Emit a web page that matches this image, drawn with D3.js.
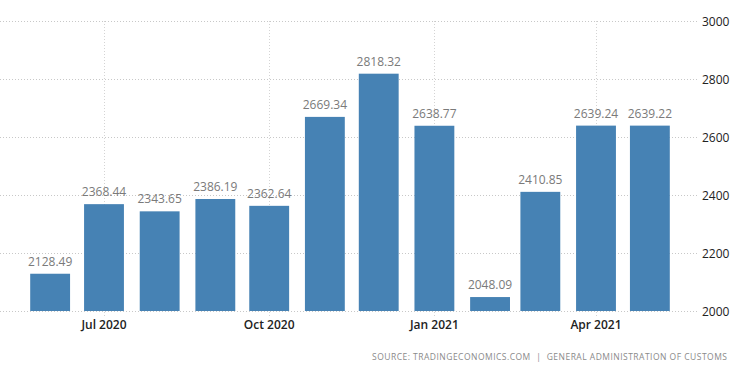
<!DOCTYPE html>
<html>
<head>
<meta charset="utf-8">
<script src="https://cdn.jsdelivr.net/npm/d3@7"></script>
<style>
  body { margin: 0; background: #fff; }
  svg { display: block; font-family: "Open Sans", sans-serif; }
</style>
</head>
<body>
<svg width="750" height="373"></svg>
<script>
// monthly values, Jun 2020 .. May 2021
var months = ["2020-06", "2020-07", "2020-08", "2020-09", "2020-10", "2020-11",
              "2020-12", "2021-01", "2021-02", "2021-03", "2021-04", "2021-05"];
var values = [2128.49, 2368.44, 2343.65, 2386.19, 2362.64, 2669.34,
              2818.32, 2638.77, 2048.09, 2410.85, 2639.24, 2639.22];
var yTicks = [2000, 2200, 2400, 2600, 2800, 3000];
var xTicks = ["2020-07", "2020-10", "2021-01", "2021-04"];
var source = "SOURCE: TRADINGECONOMICS.COM  |  GENERAL ADMINISTRATION OF CUSTOMS";

var parse = d3.timeParse("%Y-%m");
var data = months.map((m, i) => ({date: parse(m), value: values[i]}));

var svg = d3.select("svg");

var x = d3.scaleTime()
    .domain([parse("2020-07"), parse("2021-04")])
    .range([104, 596]);

var y = d3.scaleLinear()
    .domain([2000, 3000])
    .range([311, 21]);

var barW = (x(parse("2020-07")) - x(parse("2020-06"))) * 0.74;

// grid
var grid = svg.append("g");
grid.selectAll(".hgrid")
  .data(yTicks)
  .enter().append("line")
  .attr("x1", 0).attr("x2", 697)
  .attr("y1", d => y(d) + 0.5).attr("y2", d => y(d) + 0.5)
  .style("stroke", "#c8c8c8")
  .style("stroke-dasharray", "1,2");

grid.selectAll(".vgrid")
  .data(xTicks)
  .enter().append("line")
  .attr("x1", d => Math.round(x(parse(d))) + 0.5)
  .attr("x2", d => Math.round(x(parse(d))) + 0.5)
  .attr("y1", y(3000)).attr("y2", y(2000) + 5)
  .style("stroke", "#d4d4d4")
  .style("stroke-dasharray", "1,2");

// bars
svg.append("g").selectAll("rect")
  .data(data)
  .enter().append("rect")
  .attr("x", d => x(d.date) - barW / 2)
  .attr("width", barW)
  .attr("y", d => y(d.value))
  .attr("height", d => y(2000) - y(d.value))
  .attr("fill", "#4682b4");

// value labels
svg.append("g").selectAll("text")
  .data(data)
  .enter().append("text")
  .attr("x", d => x(d.date))
  .attr("y", d => y(d.value) - 8)
  .attr("text-anchor", "middle")
  .style("font-size", "12px")
  .style("fill", "#7a7a7a")
  .text(d => d.value.toFixed(2));

// y axis labels (right side)
svg.append("g").selectAll("text")
  .data(yTicks)
  .enter().append("text")
  .attr("x", 702)
  .attr("y", d => y(d) + 5)
  .style("font-size", "12px")
  .style("fill", "#222")
  .text(d => d);

// x axis labels
svg.append("g").selectAll("text")
  .data(xTicks)
  .enter().append("text")
  .attr("x", d => x(parse(d)))
  .attr("y", 329)
  .attr("text-anchor", "middle")
  .style("font-size", "12px")
  .style("font-weight", 600)
  .style("fill", "#222")
  .text(d => d3.timeFormat("%b %Y")(parse(d)));

// source line
svg.append("text")
  .attr("x", 727)
  .attr("y", 360)
  .attr("text-anchor", "end")
  .attr("textLength", 355)
  .attr("lengthAdjust", "spacing")
  .style("font-size", "8.5px")
  .style("fill", "#8a8a8a")
  .style("white-space", "pre")
  .text(source);
</script>
</body>
</html>
